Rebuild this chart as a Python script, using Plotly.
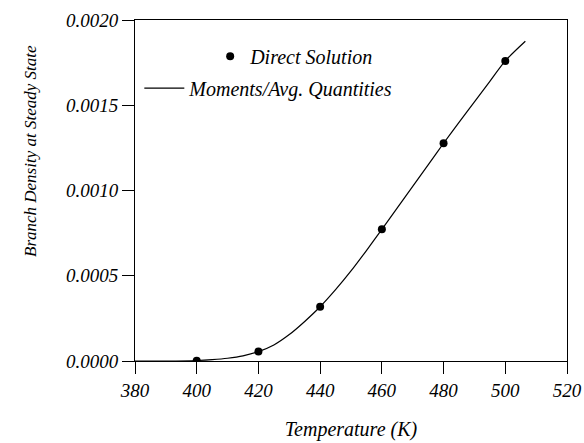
import plotly.graph_objects as go

# Direct solution points
direct_T = [400, 420, 440, 460, 480, 500]
direct_rho = [0.000002, 0.000055, 0.000318, 0.000772, 0.001277, 0.001760]

# Moments / averaged quantities curve
mom_T = [380, 390, 400, 405, 410, 415, 420, 425, 430, 435, 440, 445, 450,
         455, 460, 465, 470, 475, 480, 485, 490, 495, 500, 506.5]
mom_rho = [0.0, 0.0, 0.000003, 0.000008, 0.000016, 0.000030, 0.000055,
           0.000094, 0.000155, 0.000232, 0.000318, 0.000418, 0.000528,
           0.000648, 0.000772, 0.000898, 0.001024, 0.001150, 0.001277,
           0.001400, 0.001520, 0.001640, 0.001760, 0.001875]

x_ticks = [380, 400, 420, 440, 460, 480, 500, 520]
y_ticks = [0.0, 0.0005, 0.0010, 0.0015, 0.0020]

font = "Liberation Serif"

fig = go.Figure()
fig.add_trace(go.Scatter(
    x=mom_T, y=mom_rho, mode="lines", name="<i>Moments/Avg. Quantities</i>",
    line=dict(color="black", width=1.2, shape="spline", smoothing=0.8),
    legend="legend2"))
fig.add_trace(go.Scatter(
    x=direct_T, y=direct_rho, mode="markers", name="<i>Direct Solution</i>",
    marker=dict(color="black", size=8), legend="legend"))

axis_common = dict(showline=True, linecolor="black", linewidth=1, mirror=True,
                   ticks="outside", ticklen=12, tickcolor="black", tickwidth=1,
                   showgrid=False, zeroline=False, automargin=False,
                   tickfont=dict(family=font, size=19, color="black"))

fig.update_layout(
    width=584, height=443,
    margin=dict(l=135, r=17, t=20, b=82),
    paper_bgcolor="white", plot_bgcolor="white",
    font=dict(family=font, color="black"),
    showlegend=True,
    xaxis=dict(range=[380, 520], tickvals=x_ticks,
               ticktext=[f"<i>{v}</i>" for v in x_ticks],
               title=dict(text="<i>Temperature (K)</i>",
                          font=dict(family=font, size=20), standoff=22),
               **axis_common),
    yaxis=dict(range=[0, 0.0020], tickvals=y_ticks,
               ticktext=[f"<i>{v:.4f}</i>" for v in y_ticks],
               **axis_common),
    legend=dict(x=0.174, y=0.894, xanchor="left", yanchor="middle",
                bgcolor="rgba(0,0,0,0)", font=dict(family=font, size=20),
                itemwidth=30),
    legend2=dict(x=0.01, y=0.80, xanchor="left", yanchor="middle",
                 bgcolor="rgba(0,0,0,0)", font=dict(family=font, size=20),
                 itemwidth=40),
    annotations=[dict(text="<i>Branch Density at Steady State</i>",
                      xref="paper", yref="paper",
                      x=(30 - 135) / 432, y=(361 - 151) / 341,
                      xanchor="center", yanchor="middle", textangle=-90,
                      showarrow=False, font=dict(family=font, size=17))],
)

fig.write_html("out.html")
